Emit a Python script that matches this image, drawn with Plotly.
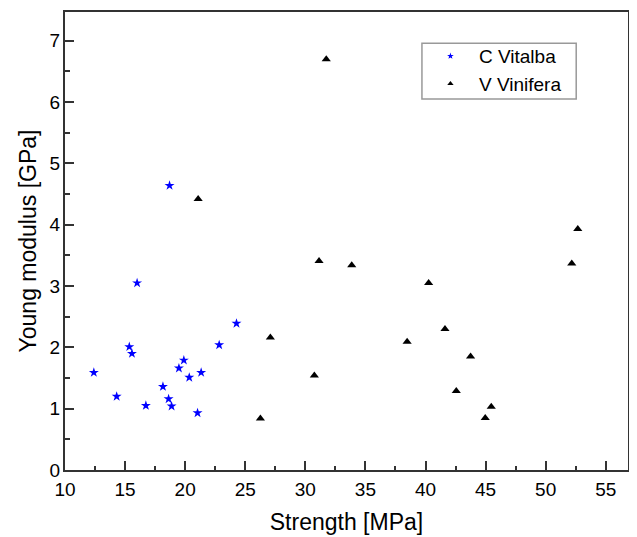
import plotly.graph_objects as go

# C Vitalba
cv_strength = [12.4, 14.3, 15.35, 15.57, 16.0, 16.73, 18.15, 18.62, 18.87, 18.7, 19.48, 19.89, 20.34, 21.03, 21.33, 22.83, 24.27]
cv_modulus = [1.59, 1.20, 2.01, 1.90, 3.05, 1.05, 1.36, 1.16, 1.04, 4.64, 1.66, 1.79, 1.51, 0.93, 1.59, 2.04, 2.39]

# V Vinifera
vv_strength = [21.08, 26.26, 27.09, 30.75, 31.14, 31.74, 33.86, 38.47, 40.26, 41.62, 42.56, 43.75, 44.97, 45.47, 52.17, 52.67]
vv_modulus = [4.42, 0.84, 2.16, 1.54, 3.41, 6.70, 3.34, 2.09, 3.05, 2.30, 1.29, 1.85, 0.85, 1.03, 3.37, 3.93]

x_ticks = [10, 15, 20, 25, 30, 35, 40, 45, 50, 55]
y_ticks = [0, 1, 2, 3, 4, 5, 6, 7]

FONT = "Liberation Sans, Arial, sans-serif"
BLUE = "#0000ff"

fig = go.Figure()
fig.add_trace(go.Scatter(
    x=cv_strength, y=cv_modulus, mode="markers", name="C Vitalba", showlegend=False,
    marker=dict(symbol="star", size=7.5, color=BLUE, line=dict(width=0))))
fig.add_trace(go.Scatter(
    x=vv_strength, y=vv_modulus, mode="markers", name="V Vinifera", showlegend=False,
    marker=dict(symbol="triangle-up", size=8, color="black", line=dict(width=0))))
# legend entries with smaller symbols, as in the reference
fig.add_trace(go.Scatter(
    x=[None], y=[None], mode="markers", name="C Vitalba",
    marker=dict(symbol="star", size=5, color=BLUE, line=dict(width=0))))
fig.add_trace(go.Scatter(
    x=[None], y=[None], mode="markers", name="V Vinifera",
    marker=dict(symbol="triangle-up", size=5.5, color="black", line=dict(width=0))))

axis_common = dict(
    showline=True, linecolor="#333333", linewidth=2, mirror=True,
    ticks="inside", ticklen=9, tickwidth=1.5, tickcolor="#333333",
    showgrid=False, zeroline=False, automargin=False,
    tickfont=dict(family=FONT, size=19, color="black"),
)

fig.update_xaxes(
    range=[10, 56.85], tickvals=x_ticks, ticklabelstandoff=1,
    minor=dict(ticks="inside", ticklen=4.5, tickwidth=1.5, tickcolor="#333333", dtick=2.5, tick0=10),
    title=dict(text="Strength [MPa]", font=dict(family=FONT, size=23, color="black"), standoff=15),
    **axis_common)
fig.update_yaxes(
    range=[0, 7.47], tickvals=y_ticks, ticklabelstandoff=-1,
    minor=dict(ticks="inside", ticklen=4.5, tickwidth=1.5, tickcolor="#333333", dtick=0.5, tick0=0),
    title=dict(text="Young modulus [GPa]", font=dict(family=FONT, size=23, color="black"), standoff=7),
    **axis_common)

# legend frame drawn as a rectangle so its size matches the reference
fig.add_shape(type="rect", xref="paper", yref="paper",
              x0=0.634, x1=0.908, y0=0.810, y1=0.932,
              line=dict(color="#999999", width=1.5), fillcolor="rgba(0,0,0,0)", layer="above")

# the page body adds an 8px offset, so the figure is sized to fit the 637x537 window
fig.update_layout(
    width=629, height=529,
    margin=dict(l=57, r=9, t=4, b=67),
    plot_bgcolor="white", paper_bgcolor="white",
    font=dict(family=FONT, color="black"),
    legend=dict(
        x=0.634, y=0.945, xanchor="left", yanchor="top",
        borderwidth=0, bgcolor="rgba(0,0,0,0)",
        font=dict(family=FONT, size=19, color="black"),
        itemwidth=47, tracegroupgap=0,
    ),
    showlegend=True,
)

fig.write_html("out.html")
